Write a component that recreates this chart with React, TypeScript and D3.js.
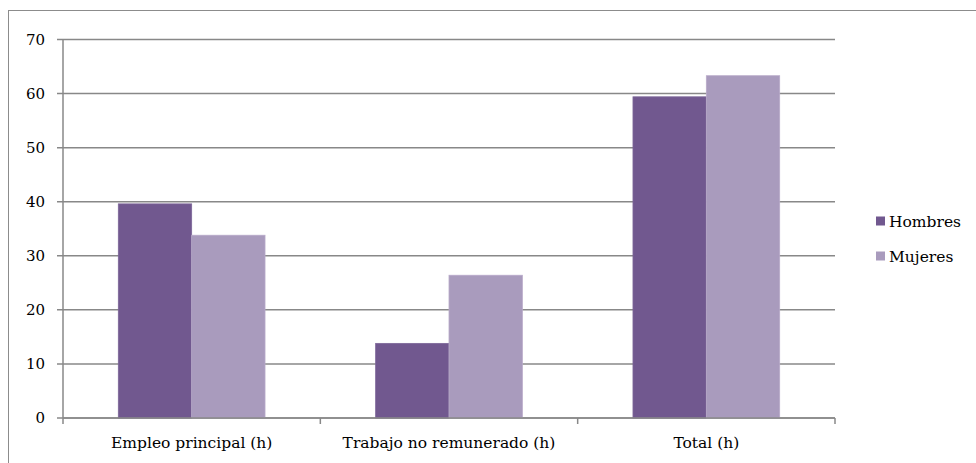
import React from 'react';
import * as d3 from 'd3';

// Horas semanales por categoría
const categories = ['Empleo principal (h)', 'Trabajo no remunerado (h)', 'Total (h)'];
const series = ['Hombres', 'Mujeres'];
const hombres = [39.6, 13.8, 59.4];
const mujeres = [33.8, 26.4, 63.3];
const yTicks = [0, 10, 20, 30, 40, 50, 60, 70];
const colors = ['#71588F', '#A99BBD'];
const strokes = ['#7d6699', '#b8aac9'];

const W = 976;
const H = 463;
const margin = { left: 63, right: 835, top: 39.5, bottom: 418 };
const font = '"DejaVu Serif", serif';

const App = () => {
  const x0 = d3.scaleBand()
    .domain(categories)
    .range([margin.left, margin.right])
    .paddingInner(0)
    .paddingOuter(0);

  const x1 = d3.scaleBand()
    .domain(series)
    .range([0, x0.bandwidth()])
    .paddingOuter(0.754);

  const y = d3.scaleLinear()
    .domain([0, 70])
    .range([margin.bottom, margin.top]);

  const values = [hombres, mujeres];
  const grid = '#888888';
  const catTicks = [...categories.map(c => x0(c) as number), margin.right];

  return (
    <svg width={W} height={H} style={{ position: 'absolute', left: 0, top: 0 }}>
      {/* borde exterior */}
      <rect x={8.5} y={10.5} width={W + 20} height={H + 20} fill="white" stroke="#8c8c8c" strokeWidth={1} />

      {/* rejilla y eje Y */}
      {yTicks.map(t => (
        <g key={t}>
          <line x1={margin.left - 6} x2={margin.right} y1={y(t)} y2={y(t)} stroke={grid} strokeWidth={1.5} />
          <text x={45} y={y(t)} dy="0.36em" textAnchor="end" fontFamily={font} fontSize={15} fill="#000">{t}</text>
        </g>
      ))}
      <line x1={margin.left} x2={margin.left} y1={margin.top} y2={margin.bottom} stroke={grid} strokeWidth={1.5} />

      {/* barras */}
      {categories.map((c, i) => (
        <g key={c} transform={`translate(${x0(c)},0)`}>
          {series.map((s, j) => (
            <rect
              key={s}
              x={x1(s)}
              y={y(values[j][i])}
              width={x1.bandwidth()}
              height={y(0) - y(values[j][i])}
              fill={colors[j]}
              stroke={strokes[j]}
              strokeWidth={0.8}
            />
          ))}
        </g>
      ))}

      {/* eje X */}
      <line x1={margin.left} x2={margin.right} y1={y(0)} y2={y(0)} stroke={grid} strokeWidth={1.5} />
      {catTicks.map((t, i) => (
        <line key={i} x1={t} x2={t} y1={y(0)} y2={y(0) + 6} stroke={grid} strokeWidth={1.5} />
      ))}
      {categories.map(c => (
        <text
          key={c}
          x={(x0(c) as number) + x0.bandwidth() / 2}
          y={448}
          textAnchor="middle"
          fontFamily={font}
          fontSize={15.5}
          fill="#000"
        >{c}</text>
      ))}

      {/* leyenda */}
      {series.map((s, j) => (
        <g key={s} transform={`translate(876,${221 + j * 35})`}>
          <rect x={0} y={-4.5} width={9} height={9} fill={colors[j]} />
          <text x={13} y={0} dy="0.36em" fontFamily={font} fontSize={15.5} fill="#000">{s}</text>
        </g>
      ))}
    </svg>
  );
};

export default App;
